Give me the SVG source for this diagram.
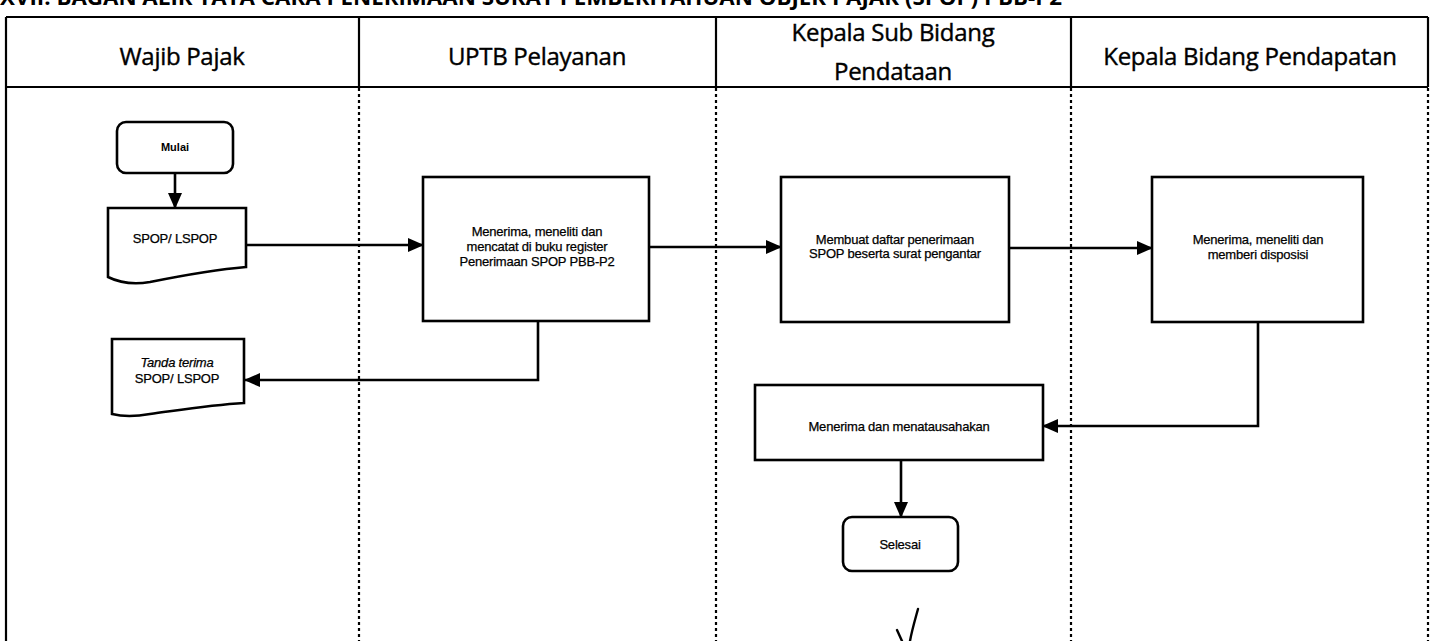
<svg xmlns="http://www.w3.org/2000/svg" width="1432" height="641" viewBox="0 0 1432 641">
  <style>
    .frame { fill: none; stroke: #000; stroke-width: 2.2; }
    .lane { fill: none; stroke: #000; stroke-width: 2.2; stroke-dasharray: 3 3; }
    .head { font-family: "Open Sans", "Liberation Sans", sans-serif; font-size: 24px; fill: #000; stroke: #000; stroke-width: 0.4; text-anchor: middle; letter-spacing: -0.3px; }
    .title { font-family: "Open Sans", "Liberation Sans", sans-serif; font-size: 22px; font-weight: bold; fill: #000; }
    .box { fill: #fff; stroke: #000; stroke-width: 2.6; }
    .lbl { font-family: "Liberation Sans", Arial, sans-serif; font-size: 13px; fill: #000; stroke: #000; stroke-width: 0.25; text-anchor: middle; letter-spacing: -0.2px; }
    .lblb { font-family: "Liberation Sans", Arial, sans-serif; font-size: 11px; font-weight: bold; fill: #000; text-anchor: middle; }
    .conn { fill: none; stroke: #000; stroke-width: 2.6; }
    .ink { fill: none; stroke: #000; stroke-width: 2.4; stroke-linecap: round; }
  </style>
  <defs>
    <marker id="arrow" markerUnits="userSpaceOnUse" markerWidth="16" markerHeight="16" viewBox="0 0 16 16" refX="15" refY="8" orient="auto">
      <path d="M0,1 L16,8 L0,15 Z" fill="#000"/>
    </marker>
  </defs>

  <rect width="1432" height="641" fill="#fff"/>

  <!-- heading, partly above the page edge -->
  <text class="title" x="0" y="5" textLength="1062" lengthAdjust="spacingAndGlyphs">XVII. BAGAN ALIR TATA CARA PENERIMAAN SURAT PEMBERITAHUAN OBJEK PAJAK (SPOP) PBB-P2</text>

  <!-- swimlane table -->
  <g id="lanes">
    <line class="frame" x1="6" y1="17" x2="1428" y2="17"/>
    <line class="frame" x1="6" y1="87" x2="1428" y2="87"/>
    <line class="frame" x1="6" y1="17" x2="6" y2="641" stroke-width="3"/>
    <line class="frame" x1="1428" y1="17" x2="1428" y2="87"/>
    <line class="frame" x1="359" y1="17" x2="359" y2="87"/>
    <line class="frame" x1="716" y1="17" x2="716" y2="87"/>
    <line class="frame" x1="1071" y1="17" x2="1071" y2="87"/>
    <line class="lane" x1="359" y1="88" x2="359" y2="641"/>
    <line class="lane" x1="716" y1="88" x2="716" y2="641"/>
    <line class="lane" x1="1071" y1="88" x2="1071" y2="641"/>
    <line class="lane" x1="1428" y1="88" x2="1428" y2="641"/>
    <text class="head" x="182" y="65">Wajib Pajak</text>
    <text class="head" x="537" y="65">UPTB Pelayanan</text>
    <text class="head" x="893" y="41">Kepala Sub Bidang</text>
    <text class="head" x="893" y="80">Pendataan</text>
    <text class="head" x="1250" y="65">Kepala Bidang Pendapatan</text>
  </g>

  <!-- connectors -->
  <g id="connectors">
    <path class="conn" d="M175,173 L175,208" marker-end="url(#arrow)"/>
    <path class="conn" d="M246,245 L423,245" marker-end="url(#arrow)"/>
    <path class="conn" d="M538,321 L538,380 L245,380" marker-end="url(#arrow)"/>
    <path class="conn" d="M649,247 L781,247" marker-end="url(#arrow)"/>
    <path class="conn" d="M1009,248 L1152,248" marker-end="url(#arrow)"/>
    <path class="conn" d="M1258,322 L1258,426 L1043,426" marker-end="url(#arrow)"/>
    <path class="conn" d="M901,460 L901,517" marker-end="url(#arrow)"/>
  </g>

  <g id="mulai">
    <rect class="box" x="117" y="122" width="116" height="51" rx="9"/>
    <text class="lblb" x="175" y="151">Mulai</text>
  </g>

  <g id="spop">
    <path class="box" d="M108,208 L246,208 L246,267 C210,270 180,276 150,282 C132,285 118,282 108,277 Z"/>
    <text class="lbl" x="175" y="243">SPOP/ LSPOP</text>
  </g>

  <g id="tanda-terima">
    <path class="box" d="M112,339 L244,339 L244,403 C210,405 180,410 150,414 C133,417 120,416 112,414 Z"/>
    <text class="lbl" x="177" y="367" font-style="italic">Tanda terima</text>
    <text class="lbl" x="177" y="383">SPOP/ LSPOP</text>
  </g>

  <g id="uptb-terima">
    <rect class="box" x="423" y="177" width="226" height="144"/>
    <text class="lbl" x="537" y="236">Menerima, meneliti dan</text>
    <text class="lbl" x="537" y="251">mencatat di buku register</text>
    <text class="lbl" x="537" y="266">Penerimaan SPOP PBB-P2</text>
  </g>

  <g id="daftar-penerimaan">
    <rect class="box" x="781" y="177" width="228" height="145"/>
    <text class="lbl" x="895" y="244">Membuat daftar penerimaan</text>
    <text class="lbl" x="895" y="258">SPOP beserta surat pengantar</text>
  </g>

  <g id="disposisi">
    <rect class="box" x="1152" y="177" width="211" height="145"/>
    <text class="lbl" x="1258" y="244">Menerima, meneliti dan</text>
    <text class="lbl" x="1258" y="259">memberi disposisi</text>
  </g>

  <g id="menatausahakan">
    <rect class="box" x="755" y="385" width="288" height="75"/>
    <text class="lbl" x="899" y="431">Menerima dan menatausahakan</text>
  </g>

  <g id="selesai">
    <rect class="box" x="843" y="517" width="115" height="54" rx="9"/>
    <text class="lbl" x="900" y="549" font-size="12">Selesai</text>
  </g>

  <!-- hand-drawn initial below the end node -->
  <path class="ink" d="M897,630 L902,641"/>
  <path class="ink" d="M918,609 C915,620 912,630 910,641"/>
</svg>
